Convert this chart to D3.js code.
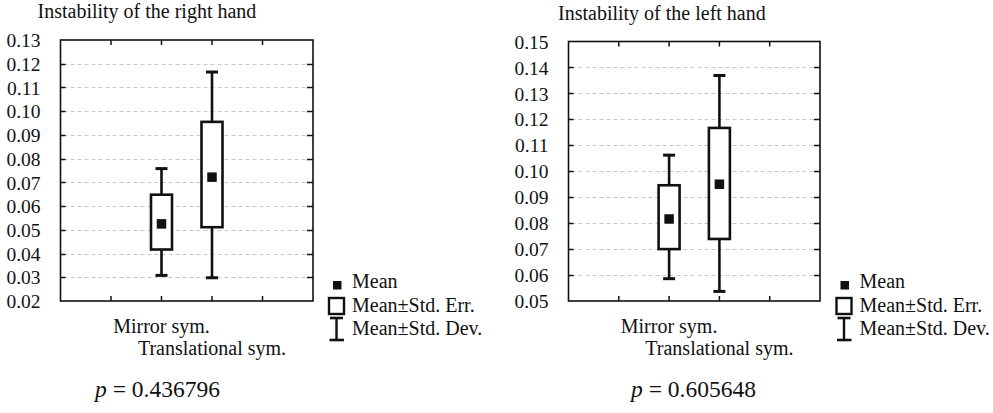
<!DOCTYPE html>
<html>
<head>
<meta charset="utf-8">
<script src="https://cdn.jsdelivr.net/npm/d3@7/dist/d3.min.js"></script>
<style>
  html, body { margin: 0; padding: 0; background: #fff; }
  svg text { font-family: "Liberation Serif", "DejaVu Serif", serif !important; fill: #111; }
</style>
</head>
<body>
<svg id="chart" width="993" height="413"></svg>
<script>
// ---- data ----
const categories = ["Mirror sym.", "Translational sym."];
const titles = ["Instability of the right hand", "Instability of the left hand"];
const pValues = ["0.436796", "0.605648"];
const legendLabels = ["Mean", "Mean\u00B1Std. Err.", "Mean\u00B1Std. Dev."];

// right hand
const rightMean = [0.0525, 0.0722];
const rightSeLow = [0.0417, 0.0511];
const rightSeHigh = [0.0648, 0.0955];
const rightSdLow = [0.0308, 0.0298];
const rightSdHigh = [0.0758, 0.1165];
const rightTicks = [0.02, 0.03, 0.04, 0.05, 0.06, 0.07, 0.08, 0.09, 0.10, 0.11, 0.12, 0.13];

// left hand
const leftMean = [0.0816, 0.0950];
const leftSeLow = [0.0700, 0.0739];
const leftSeHigh = [0.0946, 0.1167];
const leftSdLow = [0.0586, 0.0537];
const leftSdHigh = [0.1062, 0.1369];
const leftTicks = [0.05, 0.06, 0.07, 0.08, 0.09, 0.10, 0.11, 0.12, 0.13, 0.14, 0.15];

const svg = d3.select("#chart");
const FONT = "'Liberation Serif', 'DejaVu Serif', serif";

const panels = [
  { title: titles[0], p: pValues[0], mean: rightMean, seL: rightSeLow, seH: rightSeHigh, sdL: rightSdLow, sdH: rightSdHigh,
    ticks: rightTicks, x0: 60.5, x1: 313, y0: 40, y1: 301, titleX: 37.5, titleY: 18, pX: 95, legX: 333 },
  { title: titles[1], p: pValues[1], mean: leftMean, seL: leftSeLow, seH: leftSeHigh, sdL: leftSdLow, sdH: leftSdHigh,
    ticks: leftTicks, x0: 568.5, x1: 820, y0: 41.5, y1: 301, titleX: 558, titleY: 20, pX: 631, legX: 840.5 }
];

panels.forEach(P => {
  const g = svg.append("g").style("font-family", FONT);
  const y = d3.scaleLinear().domain([P.ticks[0], P.ticks[P.ticks.length - 1]]).range([P.y1, P.y0]);
  // categories sit at slots 2 and 3 of a 5-division axis
  const x = d3.scaleLinear().domain([-2, 3]).range([P.x0, P.x1]);
  const xTickVals = [-1, 0, 1, 2];

  // title
  g.append("text").attr("x", P.titleX).attr("y", P.titleY)
    .style("font-size", "20px").text(P.title);

  // gridlines (interior ticks)
  const inner = P.ticks.slice(1, -1);
  g.selectAll(".grid").data(inner).enter().append("line")
    .attr("x1", P.x0 + 3).attr("x2", P.x1 - 6)
    .attr("y1", d => Math.round(y(d)) + 0.5).attr("y2", d => Math.round(y(d)) + 0.5)
    .attr("stroke", "#c8c8c8").attr("stroke-width", 1).attr("stroke-dasharray", "4,3");

  // y axis labels via d3 axis
  const yAxis = d3.axisLeft(y).tickValues(P.ticks).tickFormat(d3.format(".2f")).tickSize(0).tickPadding(20);
  const ya = g.append("g").attr("transform", `translate(${P.x0},0)`).call(yAxis);
  ya.attr("font-family", null).attr("font-size", null);
  ya.select(".domain").remove();
  ya.selectAll("text").style("font-size", "19.5px").style("font-family", FONT).attr("fill", "#111").attr("dy", "0.34em");

  // inward y ticks both sides
  inner.forEach(d => {
    const yy = Math.round(y(d)) + 0.5;
    g.append("line").attr("x1", P.x0).attr("x2", P.x0 + 5).attr("y1", yy).attr("y2", yy).attr("stroke", "#111").attr("stroke-width", 1.5);
    g.append("line").attr("x1", P.x1 - 6).attr("x2", P.x1).attr("y1", yy).attr("y2", yy).attr("stroke", "#111").attr("stroke-width", 1.5);
  });
  // inward x ticks top and bottom
  xTickVals.forEach(v => {
    const xx = x(v);
    g.append("line").attr("x1", xx).attr("x2", xx).attr("y1", P.y0).attr("y2", P.y0 + 5).attr("stroke", "#111").attr("stroke-width", 1.5);
    g.append("line").attr("x1", xx).attr("x2", xx).attr("y1", P.y1 - 5).attr("y2", P.y1).attr("stroke", "#111").attr("stroke-width", 1.5);
  });

  // frame
  g.append("rect").attr("x", P.x0).attr("y", P.y0).attr("width", P.x1 - P.x0).attr("height", P.y1 - P.y0)
    .attr("fill", "none").attr("stroke", "#111").attr("stroke-width", 1.6);

  // boxes
  const bw = 21, cap = 12;
  categories.forEach((c, i) => {
    const cx = x(i);
    // whiskers
    g.append("line").attr("x1", cx).attr("x2", cx).attr("y1", y(P.sdL[i])).attr("y2", y(P.seL[i])).attr("stroke", "#111").attr("stroke-width", 2.6);
    g.append("line").attr("x1", cx).attr("x2", cx).attr("y1", y(P.seH[i])).attr("y2", y(P.sdH[i])).attr("stroke", "#111").attr("stroke-width", 2.6);
    g.append("line").attr("x1", cx - cap / 2).attr("x2", cx + cap / 2).attr("y1", y(P.sdL[i])).attr("y2", y(P.sdL[i])).attr("stroke", "#111").attr("stroke-width", 3);
    g.append("line").attr("x1", cx - cap / 2).attr("x2", cx + cap / 2).attr("y1", y(P.sdH[i])).attr("y2", y(P.sdH[i])).attr("stroke", "#111").attr("stroke-width", 3);
    // SE box
    g.append("rect").attr("x", cx - bw / 2).attr("y", y(P.seH[i])).attr("width", bw).attr("height", y(P.seL[i]) - y(P.seH[i]))
      .attr("fill", "#fff").attr("stroke", "#111").attr("stroke-width", 2.6);
    // mean
    g.append("rect").attr("x", cx - 4.75).attr("y", y(P.mean[i]) - 4.75).attr("width", 9.5).attr("height", 9.5).attr("fill", "#111");
    // category label (staggered)
    g.append("text").attr("x", cx).attr("y", 333 + i * 22).attr("text-anchor", "middle")
      .style("font-size", "20px").text(c);
  });

  // p value
  const pt = g.append("text").attr("x", P.pX).attr("y", 397).style("font-size", "23.5px");
  pt.append("tspan").style("font-style", "italic").text("p");
  pt.append("tspan").text(" = " + P.p);

  // legend
  const lx = P.legX;
  g.append("rect").attr("x", lx).attr("y", 281).attr("width", 8.5).attr("height", 8.5).attr("fill", "#111");
  g.append("rect").attr("x", lx - 4).attr("y", 298).attr("width", 15).attr("height", 16).attr("fill", "none").attr("stroke", "#111").attr("stroke-width", 2.4);
  g.append("line").attr("x1", lx + 3.5).attr("x2", lx + 3.5).attr("y1", 318).attr("y2", 340).attr("stroke", "#111").attr("stroke-width", 2.4);
  g.append("line").attr("x1", lx - 3).attr("x2", lx + 10).attr("y1", 318).attr("y2", 318).attr("stroke", "#111").attr("stroke-width", 2.6);
  g.append("line").attr("x1", lx - 3.5).attr("x2", lx + 11).attr("y1", 340).attr("y2", 340).attr("stroke", "#111").attr("stroke-width", 2.6);
  legendLabels.forEach((t, k) => {
    g.append("text").attr("x", lx + 19).attr("y", 288 + k * 23.5).style("font-size", "20px").text(t);
  });
});
</script>
</body>
</html>
